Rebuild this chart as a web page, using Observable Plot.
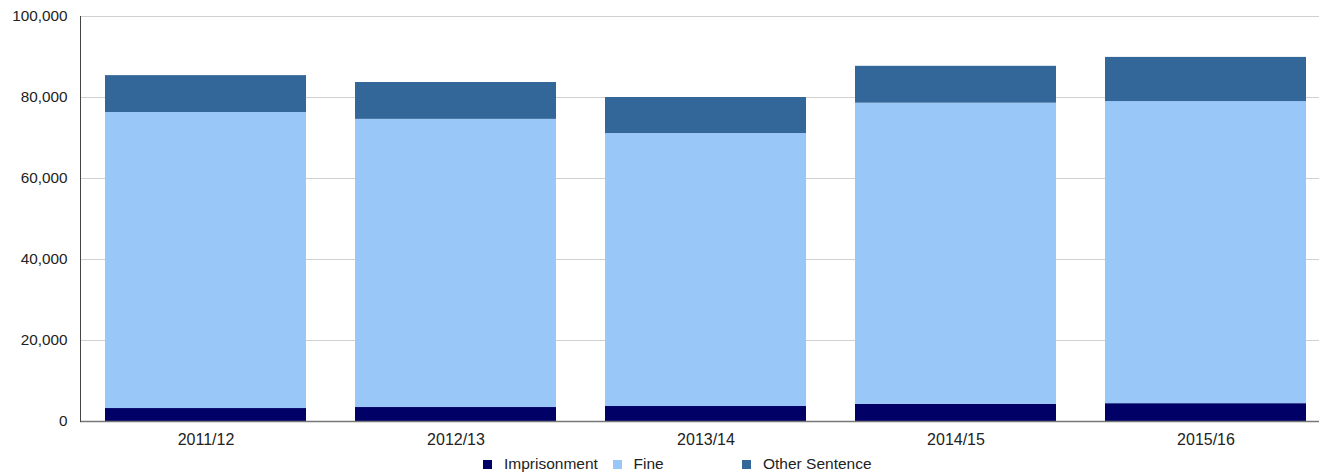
<!DOCTYPE html>
<html>
<head>
<meta charset="utf-8">
<script src="https://cdn.jsdelivr.net/npm/d3@7"></script>
<script src="https://cdn.jsdelivr.net/npm/@observablehq/plot@0.6"></script>
<style>
  html, body { margin: 0; padding: 0; background: #fff; }
  body { width: 1319px; height: 472px; overflow: hidden; font-family: "Liberation Sans", Arial, sans-serif; }
  #legend { display: flex; margin-left: 483px; margin-top: 2px; font-size: 15.5px; color: #222; line-height: 20px; }
  #legend .item { display: flex; align-items: center; width: 129.5px; white-space: nowrap; }
  #legend .sw { width: 9px; height: 9px; margin-right: 12px; flex: none; }
</style>
</head>
<body>
<div id="chart"></div>
<div id="legend"></div>
<script>
const years = ["2011/12", "2012/13", "2013/14", "2014/15", "2015/16"];
const seriesNames = ["Imprisonment", "Fine", "Other Sentence"];
const seriesColors = ["#000066", "#99c7f7", "#336699"];
const imprisonment = [3200, 3450, 3700, 4200, 4400];
const fine = [73100, 71150, 67400, 74400, 74600];
const other = [9100, 9100, 8900, 9100, 10900];
const yTicks = [0, 20000, 40000, 60000, 80000, 100000];

const seriesValues = [imprisonment, fine, other];
const rows = [];
years.forEach((yr, i) => {
  seriesNames.forEach((s, j) => rows.push({year: yr, series: s, value: seriesValues[j][i]}));
});

const chart = Plot.plot({
  width: 1319,
  height: 452,
  marginLeft: 80,
  marginRight: 0,
  marginTop: 16,
  marginBottom: 31,
  style: {fontFamily: "'Liberation Sans', Arial, sans-serif", fontSize: "15.3px", color: "#222", background: "#fff"},
  x: {domain: years, range: [78, 1333], paddingInner: 0.195, paddingOuter: 0.0976, align: 0.5, label: null},
  y: {domain: [0, 100000], label: null},
  color: {domain: seriesNames, range: seriesColors},
  marks: [
    Plot.gridY(yTicks, {stroke: "#d0d0d0", strokeOpacity: 1}),
    Plot.barY(rows, {x: "year", y: "value", fill: "series", order: seriesNames}),
    Plot.axisY(yTicks, {tickSize: 0, tickPadding: 13, tickFormat: d3.format(","), label: null, fill: "#222"}),
    Plot.axisX({tickSize: 0, tickPadding: 12, label: null, fill: "#222", fontSize: 16}),
    Plot.ruleY([0], {stroke: "#777", strokeWidth: 1.5}),
    Plot.frame({anchor: "left", stroke: "#444"})
  ]
});
document.getElementById("chart").appendChild(chart);

const legend = document.getElementById("legend");
seriesNames.forEach((s, j) => {
  const item = document.createElement("div");
  item.className = "item";
  const sw = document.createElement("span");
  sw.className = "sw";
  sw.style.background = seriesColors[j];
  const t = document.createElement("span");
  t.textContent = s;
  item.appendChild(sw);
  item.appendChild(t);
  legend.appendChild(item);
});
</script>
</body>
</html>
